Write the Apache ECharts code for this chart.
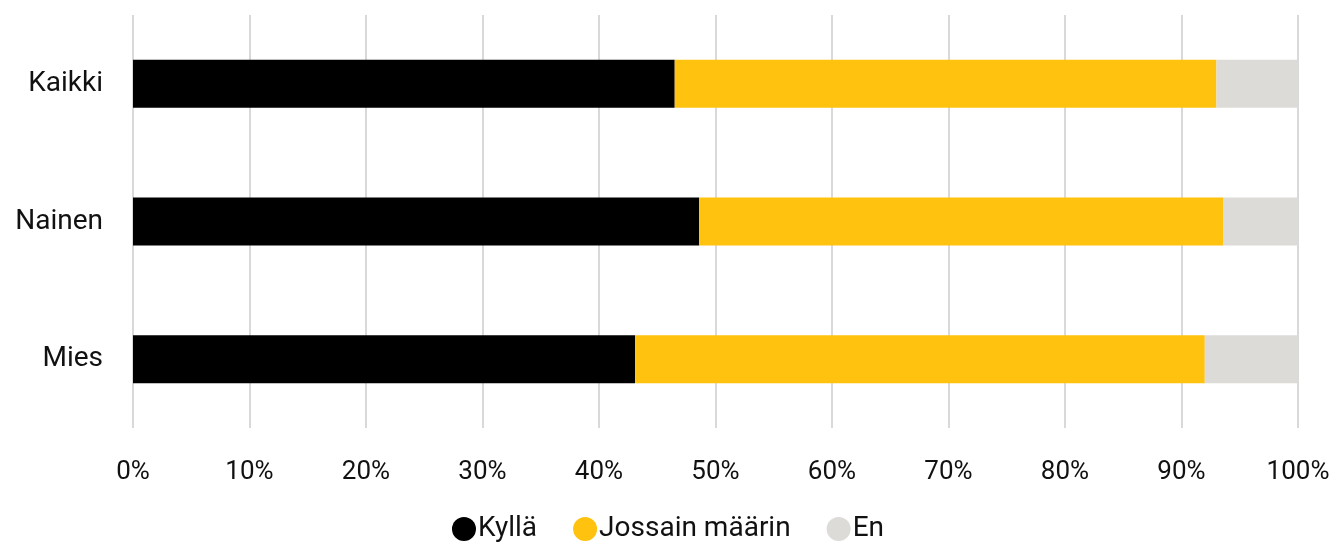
<!DOCTYPE html>
<html><head><meta charset="utf-8">
<script src="https://cdn.jsdelivr.net/npm/echarts@6/dist/echarts.min.js"></script>
<style>html,body{margin:0;padding:0;background:#fff}#c{width:1336px;height:547px}</style>
</head><body><div id="c"></div>
<script>
const categories = ['Kaikki', 'Nainen', 'Mies'];
const seriesNames = ['Kyllä', 'Jossain määrin', 'En'];
const kylla = [46.5, 48.6, 43.1];
const jossain = [46.5, 45.0, 48.9];
const en = [7.0, 6.4, 8.0];
const colors = ['#000000', '#FFC20E', '#DCDBD8'];

const chart = echarts.init(document.getElementById('c'));
const font = 'Roboto';
const mk = (name, data, i) => ({
  name, type: 'bar', stack: 's', data, barWidth: 48,
  itemStyle: { color: colors[i] }
});
chart.setOption({
  animation: false,
  color: colors,
  grid: { left: 133, right: 38, top: 15, bottom: 119 },
  xAxis: {
    type: 'value', min: 0, max: 100, interval: 10,
    axisLine: { show: false }, axisTick: { show: false },
    splitLine: { lineStyle: { color: '#d9d9d9', width: 2 } },
    axisLabel: { formatter: '{value}%', color: '#111', fontSize: 26, fontFamily: font, margin: 31 }
  },
  yAxis: {
    type: 'category', data: categories, inverse: true,
    axisLine: { show: false }, axisTick: { show: false },
    axisLabel: { color: '#111', fontSize: 28, fontFamily: font, margin: 30 }
  },
  legend: {
    top: 510, left: 'center', icon: 'circle', itemWidth: 24, itemHeight: 24, itemGap: 36,
    textStyle: { fontSize: 28, fontFamily: font, color: '#111', padding: [0, 0, 0, -3] },
    data: seriesNames
  },
  series: [mk(seriesNames[0], kylla, 0), mk(seriesNames[1], jossain, 1), mk(seriesNames[2], en, 2)]
});
</script></body></html>
